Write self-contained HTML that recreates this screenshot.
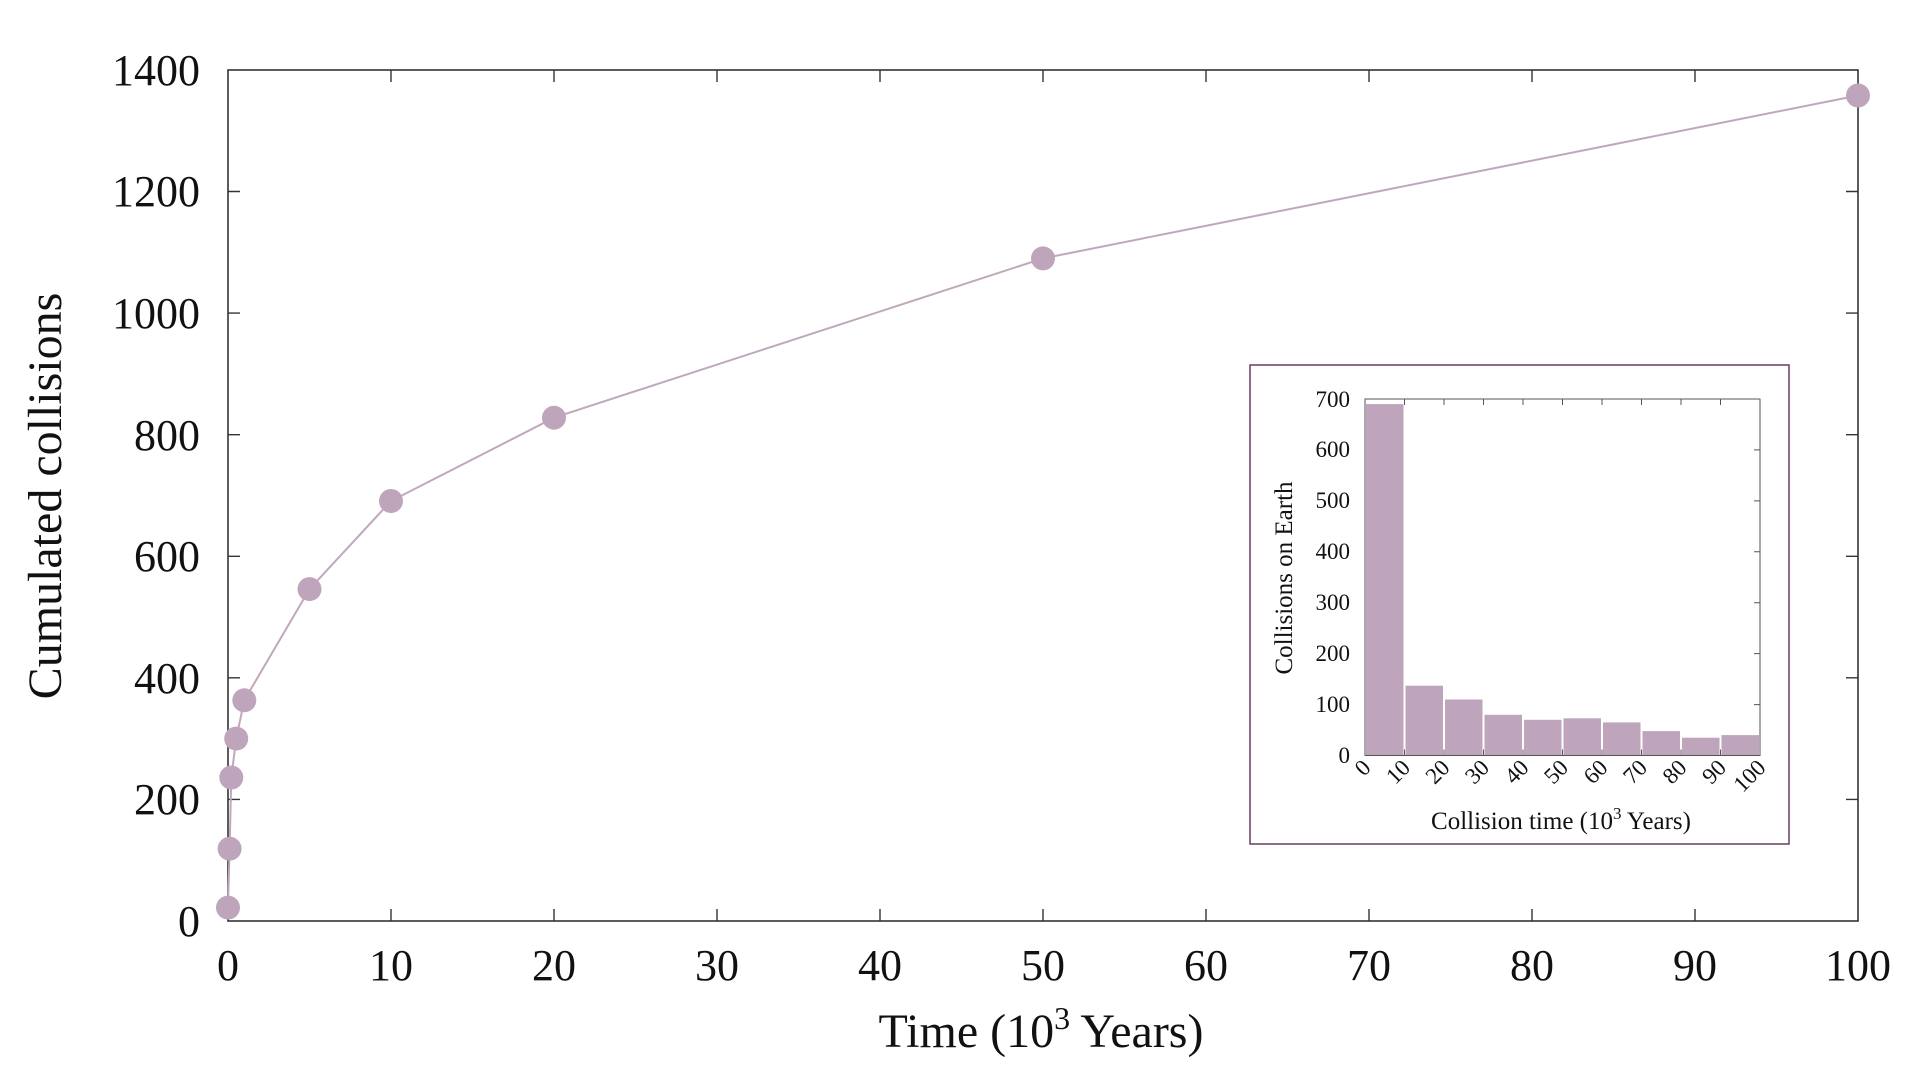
<!DOCTYPE html>
<html><head><meta charset="utf-8"><style>
html,body{margin:0;padding:0;background:#fff;}
svg{display:block;font-family:"Liberation Serif",serif;}
</style></head><body>
<svg width="1920" height="1080" viewBox="0 0 1920 1080" xmlns="http://www.w3.org/2000/svg">
<rect width="1920" height="1080" fill="#fff"/>
<rect x="228" y="70" width="1630" height="851" fill="none" stroke="#333" stroke-width="1.6"/>
<g stroke="#333" stroke-width="1.4">
<path d="M391 921v-12M554 921v-12M717 921v-12M880 921v-12M1043 921v-12M1206 921v-12M1369 921v-12M1532 921v-12M1695 921v-12
M391 70v12M554 70v12M717 70v12M880 70v12M1043 70v12M1206 70v12M1369 70v12M1532 70v12M1695 70v12
M228 799.4h12M228 677.8h12M228 556.3h12M228 434.7h12M228 313.1h12M228 191.5h12
M1858 799.4h-12M1858 677.8h-12M1858 556.3h-12M1858 434.7h-12M1858 313.1h-12M1858 191.5h-12"/>
</g>
<g font-size="44" fill="#111" text-anchor="end">
<text x="200" y="936">0</text>
<text x="200" y="814">200</text>
<text x="200" y="693">400</text>
<text x="200" y="571">600</text>
<text x="200" y="450">800</text>
<text x="200" y="328">1000</text>
<text x="200" y="206">1200</text>
<text x="200" y="85">1400</text>
</g>
<g font-size="44" fill="#111" text-anchor="middle">
<text x="228" y="980">0</text>
<text x="391" y="980">10</text>
<text x="554" y="980">20</text>
<text x="717" y="980">30</text>
<text x="880" y="980">40</text>
<text x="1043" y="980">50</text>
<text x="1206" y="980">60</text>
<text x="1369" y="980">70</text>
<text x="1532" y="980">80</text>
<text x="1695" y="980">90</text>
<text x="1858" y="980">100</text>
</g>
<text x="1041" y="1047" font-size="48" fill="#111" text-anchor="middle">Time (10<tspan font-size="32" dy="-18">3</tspan><tspan dy="18"> Years)</tspan></text>
<text transform="translate(61,496) rotate(-90)" font-size="48" fill="#111" text-anchor="middle">Cumulated collisions</text>
<polyline fill="none" stroke="#c0a8bc" stroke-width="2" points="228,907.6 229.6,848.7 231.3,777.5 236.2,738.6 244.3,700.3 309.5,589.1 391,501 554,417.7 1043,258.4 1858,95.5"/>
<g fill="#bfa5bb">
<circle cx="228" cy="907.6" r="12"/>
<circle cx="229.6" cy="848.7" r="12"/>
<circle cx="231.3" cy="777.5" r="12"/>
<circle cx="236.2" cy="738.6" r="12"/>
<circle cx="244.3" cy="700.3" r="12"/>
<circle cx="309.5" cy="589.1" r="12"/>
<circle cx="391" cy="501" r="12"/>
<circle cx="554" cy="417.7" r="12"/>
<circle cx="1043" cy="258.4" r="12"/>
<circle cx="1858" cy="95.5" r="12"/>
</g>
<rect x="1250" y="365" width="539" height="479" fill="#fff" stroke="#6a3d62" stroke-width="1.5"/>
<g fill="#bfa5bb">
<rect x="1366" y="404.1" width="37.5" height="351.4"/>
<rect x="1405.5" y="685.7" width="37.5" height="69.8"/>
<rect x="1445" y="699.5" width="37.5" height="56"/>
<rect x="1484.5" y="714.8" width="37.5" height="40.7"/>
<rect x="1524" y="719.8" width="37.5" height="35.7"/>
<rect x="1563.5" y="718.3" width="37.5" height="37.2"/>
<rect x="1603" y="722.4" width="37.5" height="33.1"/>
<rect x="1642.5" y="731.1" width="37.5" height="24.4"/>
<rect x="1682" y="737.7" width="37.5" height="17.8"/>
<rect x="1721.5" y="735.1" width="37.5" height="20.4"/>
</g>
<rect x="1365" y="399" width="395" height="356.5" fill="none" stroke="#555" stroke-width="1"/>
<g stroke="#555" stroke-width="1">
<path d="M1404.5 755.5v-6M1444 755.5v-6M1483.5 755.5v-6M1523 755.5v-6M1562.5 755.5v-6M1602 755.5v-6M1641.5 755.5v-6M1681 755.5v-6M1720.5 755.5v-6
M1404.5 399v6M1444 399v6M1483.5 399v6M1523 399v6M1562.5 399v6M1602 399v6M1641.5 399v6M1681 399v6M1720.5 399v6
M1760 704.6h-6M1760 653.6h-6M1760 602.7h-6M1760 551.8h-6M1760 500.9h-6M1760 449.9h-6"/>
</g>
<g font-size="23" fill="#111" text-anchor="end">
<text x="1350" y="763">0</text>
<text x="1350" y="712">100</text>
<text x="1350" y="661">200</text>
<text x="1350" y="610">300</text>
<text x="1350" y="559">400</text>
<text x="1350" y="508">500</text>
<text x="1350" y="457">600</text>
<text x="1350" y="407">700</text>
</g>
<g font-size="23" fill="#111" text-anchor="end">
<text transform="translate(1372,769) rotate(-45)">0</text>
<text transform="translate(1411.5,769) rotate(-45)">10</text>
<text transform="translate(1451,769) rotate(-45)">20</text>
<text transform="translate(1490.5,769) rotate(-45)">30</text>
<text transform="translate(1530,769) rotate(-45)">40</text>
<text transform="translate(1569.5,769) rotate(-45)">50</text>
<text transform="translate(1609,769) rotate(-45)">60</text>
<text transform="translate(1648.5,769) rotate(-45)">70</text>
<text transform="translate(1688,769) rotate(-45)">80</text>
<text transform="translate(1727.5,769) rotate(-45)">90</text>
<text transform="translate(1767,769) rotate(-45)">100</text>
</g>
<text x="1561" y="829" font-size="25" fill="#111" text-anchor="middle">Collision time (10<tspan font-size="17" dy="-10">3</tspan><tspan dy="10"> Years)</tspan></text>
<text transform="translate(1292,578) rotate(-90)" font-size="25" fill="#111" text-anchor="middle">Collisions on Earth</text>
</svg>
</body></html>
